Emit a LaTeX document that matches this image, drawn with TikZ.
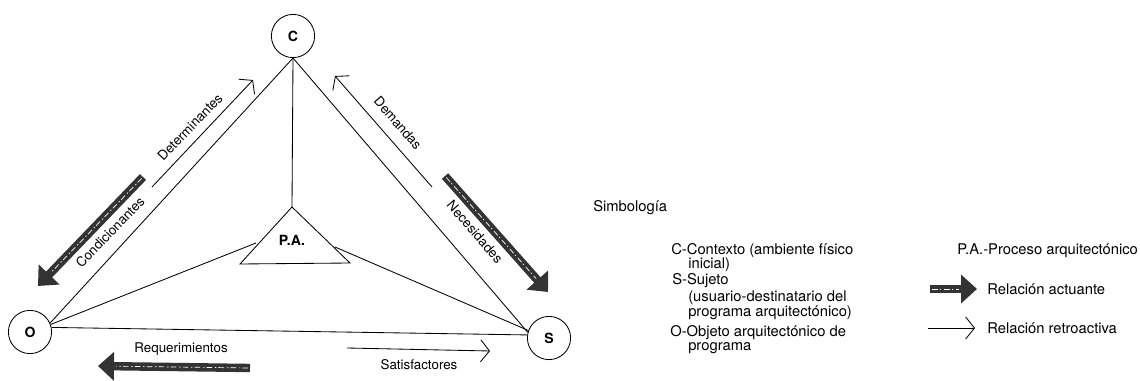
\documentclass[tikz,border=0pt]{standalone}
\usepackage{fontspec}
\setmainfont{TeX Gyre Heros}
\usetikzlibrary{positioning, arrows.meta, calc}

\begin{document}
\begin{tikzpicture}[x=0.025cm, y=-0.025cm, font=\fontsize{9.5}{11}\selectfont,
    ent/.style={draw, circle, minimum size=1.08cm, inner sep=0pt, line width=0.6pt, font=\bfseries},
    lin/.style={line width=0.6pt},
    retro/.style={line width=0.6pt, -{Straight Barb[length=2.2mm, width=5.5mm]}},
    actua/.style={line width=2.1mm, draw=black!80, -{Triangle[length=4mm, width=7mm]}},
    hatch/.style={white, line width=0.5pt, dash pattern=on 4pt off 1.5pt on 1pt off 2pt, shorten >=4.5mm, shorten <=0.5mm},
    lbl/.style={inner sep=1pt},
    leg/.style={anchor=west, inner sep=0pt, font=\fontsize{10.5}{12}\selectfont}]
  \useasboundingbox (0,0) rectangle (1140,381);
  % entities
  \node[ent] (C) at (293,36) {C};
  \node[ent] (O) at (30,332) {O};
  \node[ent] (S) at (549,338) {S};
  % proceso arquitectonico
  \coordinate (pa1) at (292,207);
  \coordinate (pa2) at (240,264);
  \coordinate (pa3) at (350,263);
  \draw[lin] (pa1) -- (pa2) -- (pa3) -- cycle;
  \node[font=\bfseries] (PA) at (292,240) {P.A.};
  \coordinate (paL) at (256,243);
  \coordinate (paR) at (335,247);
  % triangle sides
  \draw[lin] (C.south) -- (O.24);
  \draw[lin] (C.south) -- (S.165);
  \draw[lin] (C.south) -- (pa1);
  \draw[lin] (O.12) -- (S.172);
  \draw[lin] (O.20) -- (paL);
  \draw[lin] (paR) -- (S.160);
  % relations
  \coordinate (det1) at (152,187); \coordinate (det2) at (253,80);
  \coordinate (dem1) at (432,187); \coordinate (dem2) at (335,76);
  \coordinate (sat1) at (347,348); \coordinate (sat2) at (490,351);
  \coordinate (con1) at (143,177); \coordinate (con2) at (38,286);
  \coordinate (nec1) at (445,176); \coordinate (nec2) at (548,292);
  \coordinate (req1) at (250,368); \coordinate (req2) at (98,366);
  \coordinate (la1) at (930,289);  \coordinate (la2) at (977,289);
  \coordinate (lr1) at (928,328);  \coordinate (lr2) at (975,328);
  \foreach \a/\b in {det1/det2, dem1/dem2, sat1/sat2, lr1/lr2}
    \draw[retro] (\a) -- (\b);
  \foreach \a/\b in {con1/con2, nec1/nec2, req1/req2, la1/la2} {
    \draw[actua] (\a) -- (\b);
    \draw[hatch] (\a) -- (\b);
  }
  \node[lbl, rotate=46]  (detl) at (190,127) {Determinantes};
  \node[lbl, rotate=-49] (deml) at (398,123) {Demandas};
  \node[lbl, rotate=46]  (conl) at (110,232) {Condicionantes};
  \node[lbl, rotate=-49] (necl) at (475,232) {Necesidades};
  \node[lbl] (reql) at (181,349) {Requerimientos};
  \node[lbl] (satl) at (419,365) {Satisfactores};
  % legend
  \node[leg] (simb) at (593,208) {Simbología};
  \foreach \x/\y/\t [count=\i] in {671/251/C-Contexto (ambiente físico, 688/265/inicial),
      672/281/S-Sujeto, 688/298/(usuario-destinatario del, 688/313/programa arquitectónico),
      670/333/O-Objeto arquitectónico de, 688/348/programa}
    \node[leg] (leg\i) at (\x,\y) {\t};
  \node[leg] (legPA) at (957,251) {P.A.-Proceso arquitectónico};
  \node[leg] (legA) at (987,289) {Relación actuante};
  \node[leg] (legR) at (987,328) {Relación retroactiva};
\end{tikzpicture}
\end{document}
